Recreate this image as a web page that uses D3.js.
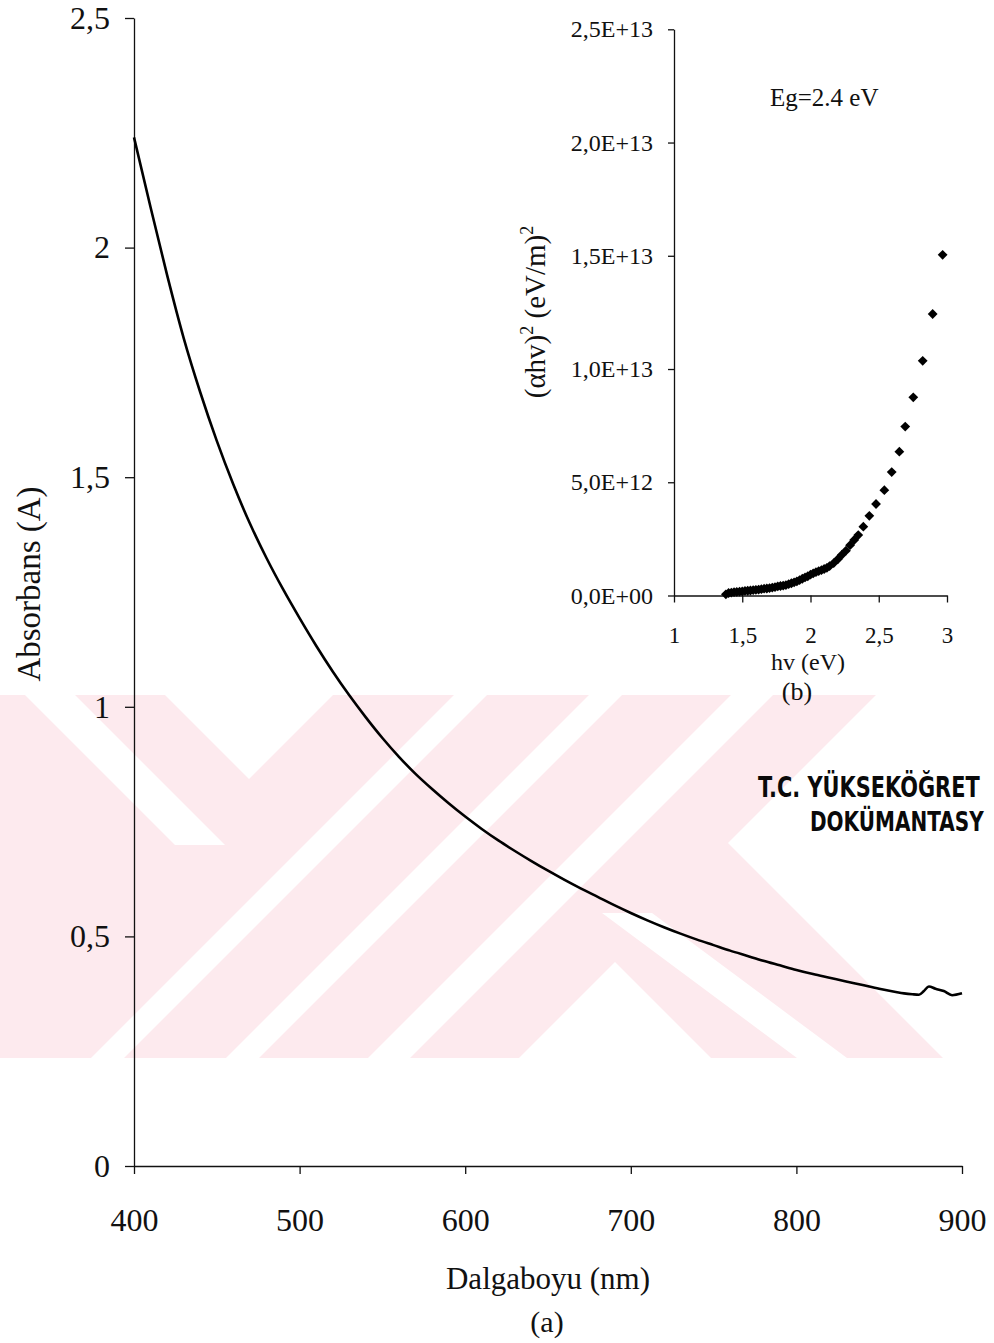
<!DOCTYPE html>
<html>
  <head>
    <meta charset="UTF-8">
    <title>Absorbans</title>
    <style>
      body { margin: 0; background: #fff; }
      svg { display: block; }
    </style>
  </head>
  <body>
    <div id='chart'></div>
    <script src='https://d3js.org/d3.v7.min.js'></script>
    <script>

      // main spectrum (a)
      const wavelength = [400, 410, 420, 430, 440, 450, 460, 470, 480, 490, 500, 510, 520, 530, 540, 550, 560, 570, 580, 590,
        600, 610, 620, 630, 640, 650, 660, 670, 680, 690, 700, 710, 720, 730, 740, 750, 760, 770, 780, 790,
        800, 810, 820, 830, 840, 850, 860, 865, 870, 874, 877, 880, 884, 889, 894, 900];
      const absorbance = [2.240, 2.088, 1.940, 1.803, 1.685, 1.579, 1.484, 1.399, 1.324, 1.256, 1.193, 1.133, 1.077, 1.025, 0.977, 0.932, 0.891, 0.854, 0.821, 0.790,
        0.761, 0.734, 0.709, 0.686, 0.664, 0.643, 0.623, 0.604, 0.586, 0.568, 0.551, 0.535, 0.520, 0.506, 0.493, 0.481, 0.469, 0.458, 0.447, 0.437,
        0.427, 0.418, 0.410, 0.402, 0.394, 0.386, 0.379, 0.376, 0.374, 0.373, 0.381, 0.391, 0.386, 0.381, 0.372, 0.376];
      const xTicks = [400, 500, 600, 700, 800, 900];
      const yTicks = [0, 0.5, 1, 1.5, 2, 2.5];

      // inset tauc plot (b), values in units of 1E+12
      const photonEnergy = [1.38, 1.40, 1.42, 1.44, 1.46, 1.48, 1.50, 1.52, 1.54, 1.56, 1.58, 1.60, 1.62, 1.64, 1.66, 1.68, 1.70, 1.72, 1.74, 1.76,
        1.78, 1.80, 1.82, 1.84, 1.86, 1.88, 1.90, 1.92, 1.94, 1.96, 1.98, 2.00, 2.02, 2.04, 2.06, 2.08, 2.10, 2.12, 2.14, 2.17,
        2.20, 2.23, 2.26, 2.29, 2.32, 2.35, 2.387, 2.431, 2.48, 2.541, 2.595, 2.651, 2.694, 2.753, 2.822, 2.895, 2.968];
      const taucValue = [0.05, 0.11, 0.13, 0.15, 0.16, 0.17, 0.18, 0.20, 0.21, 0.22, 0.24, 0.25, 0.26, 0.28, 0.30, 0.31, 0.33, 0.35, 0.37, 0.40,
        0.42, 0.44, 0.46, 0.50, 0.54, 0.58, 0.62, 0.68, 0.74, 0.80, 0.85, 0.92, 0.98, 1.03, 1.08, 1.12, 1.17, 1.22, 1.30, 1.43,
        1.60, 1.80, 1.98, 2.22, 2.45, 2.67, 3.04, 3.52, 4.04, 4.65, 5.45, 6.35, 7.46, 8.75, 10.36, 12.43, 15.04];
      const insetXTicks = [1, 1.5, 2, 2.5, 3];
      const insetYTicks = [0, 5e12, 1e13, 1.5e13, 2e13, 2.5e13];

      const width = 994;
      const height = 1343;
      const serif = "'Liberation Serif', 'Times New Roman', serif";
      const ink = '#111';

      const locale = d3.formatLocale({ decimal: ',', thousands: '.', grouping: [3], currency: ['', ''] });
      const fmt = locale.format('~g');
      const sciFmt = (d) => {
        const [m, e] = d.toExponential(1).split('e');
        return m.replace('.', ',') + 'E' + e[0] + e.slice(1).padStart(2, '0');
      };

      const svg = d3.select('#chart')
        .append('svg')
        .attr('width', width)
        .attr('height', height);

      svg.append('rect')
        .attr('width', width)
        .attr('height', height)
        .attr('fill', '#fff');

      // watermark
      const wm = svg.append('g');
      wm.append('clipPath')
        .attr('id', 'wm-clip')
        .append('rect')
        .attr('x', 0).attr('y', 695).attr('width', width).attr('height', 363);
      const wmg = wm.append('g').attr('clip-path', 'url(#wm-clip)');
      wmg.append('rect')
        .attr('x', 0).attr('y', 695).attr('width', width).attr('height', 363)
        .attr('fill', '#fdeaee');
      const gaps = [
        [[165, 695], [333, 695], [249, 779]],
        [[519, 1058], [711, 1058], [615, 962]],
        [[91, 1058], [124, 1058], [487, 695], [454, 695]],
        [[226, 1058], [259, 1058], [622, 695], [589, 695]],
        [[368, 1058], [410, 1058], [773, 695], [731, 695]],
        [[728, 843], [876, 695], [994, 695], [994, 1058], [943, 1058]],
        [[797, 1058], [847, 1058], [652, 913], [602, 913]],
        [[25, 695], [75, 695], [225, 845], [175, 845]]
      ];
      wmg.selectAll('polygon')
        .data(gaps)
        .enter().append('polygon')
        .attr('points', (d) => d.map((p) => p.join(',')).join(' '))
        .attr('fill', '#fff');

      // stamp
      const stamp = svg.append('g')
        .attr('fill', '#0a0a0a')
        .attr('font-family', "'DejaVu Sans', sans-serif")
        .attr('font-weight', 'bold');
      stamp.append('text')
        .attr('transform', 'translate(758,797) scale(0.72,1)')
        .attr('font-size', 29)
        .text('T.C. YÜKSEKÖĞRET');
      stamp.append('text')
        .attr('transform', 'translate(810,831) scale(0.77,1)')
        .attr('font-size', 26)
        .text('DOKÜMANTASY');

      // main chart
      const x = d3.scaleLinear().domain([400, 900]).range([134, 962]);
      const y = d3.scaleLinear().domain([0, 2.5]).range([1166, 18]);

      const styleAxis = (g, size) => {
        g.attr('font-family', serif).attr('font-size', size);
        g.selectAll('line, path').attr('stroke', ink).attr('stroke-width', 1.3);
        g.selectAll('text').attr('fill', ink);
      };

      svg.append('g')
        .attr('transform', `translate(0,${y(0)})`)
        .call(d3.axisBottom(x).tickValues(xTicks).tickSize(8).tickSizeOuter(0).tickPadding(34).tickFormat(fmt))
        .call((g) => styleAxis(g, 32));

      svg.append('g')
        .attr('transform', `translate(${x(400)},0)`)
        .call(d3.axisLeft(y).tickValues(yTicks).tickSize(9).tickSizeOuter(0).tickPadding(15).tickFormat(fmt))
        .call((g) => styleAxis(g, 32));

      const line = d3.line()
        .x((d, i) => x(wavelength[i]))
        .y((d) => y(d))
        .curve(d3.curveMonotoneX);

      svg.append('path')
        .datum(absorbance)
        .attr('d', line)
        .attr('fill', 'none')
        .attr('stroke', '#000')
        .attr('stroke-width', 2.6)
        .attr('stroke-linejoin', 'round');

      svg.append('text')
        .attr('transform', 'translate(40,584) rotate(-90)')
        .attr('text-anchor', 'middle')
        .attr('font-family', serif)
        .attr('font-size', 33)
        .attr('fill', ink)
        .text('Absorbans (A)');

      svg.append('text')
        .attr('x', 548).attr('y', 1289)
        .attr('text-anchor', 'middle')
        .attr('font-family', serif)
        .attr('font-size', 31)
        .attr('fill', ink)
        .text('Dalgaboyu (nm)');

      svg.append('text')
        .attr('x', 547).attr('y', 1332)
        .attr('text-anchor', 'middle')
        .attr('font-family', serif)
        .attr('font-size', 30)
        .attr('fill', ink)
        .text('(a)');

      // inset chart
      const ix = d3.scaleLinear().domain([1, 3]).range([674, 947]);
      const iy = d3.scaleLinear().domain([0, 2.5e13]).range([595.5, 29.3]);

      svg.append('g')
        .attr('transform', `translate(0,${iy(0)})`)
        .call(d3.axisBottom(ix).tickValues(insetXTicks).tickSize(7).tickSizeOuter(0).tickPadding(24).tickFormat(fmt))
        .call((g) => styleAxis(g, 23));

      svg.append('g')
        .attr('transform', `translate(${ix(1)},0)`)
        .call(d3.axisLeft(iy).tickValues(insetYTicks).tickSize(6).tickSizeOuter(0).tickPadding(15).tickFormat(sciFmt))
        .call((g) => styleAxis(g, 24));

      const diamond = d3.symbol().type(d3.symbolSquare).size(48);
      svg.append('g')
        .selectAll('path')
        .data(taucValue)
        .enter().append('path')
        .attr('d', diamond)
        .attr('transform', (d, i) => `translate(${ix(photonEnergy[i])},${iy(d * 1e12)}) rotate(45)`)
        .attr('fill', '#000');

      svg.append('text')
        .attr('x', 770).attr('y', 106)
        .attr('font-family', serif)
        .attr('font-size', 25)
        .attr('fill', ink)
        .text('Eg=2.4 eV');

      svg.append('text')
        .attr('x', 808).attr('y', 670)
        .attr('text-anchor', 'middle')
        .attr('font-family', serif)
        .attr('font-size', 24)
        .attr('fill', ink)
        .text('hv (eV)');

      svg.append('text')
        .attr('x', 797).attr('y', 700)
        .attr('text-anchor', 'middle')
        .attr('font-family', serif)
        .attr('font-size', 26)
        .attr('fill', ink)
        .text('(b)');

      const ytitle = svg.append('text')
        .attr('transform', 'translate(545,312) rotate(-90)')
        .attr('text-anchor', 'middle')
        .attr('font-family', serif)
        .attr('font-size', 29)
        .attr('fill', ink);
      ytitle.append('tspan').text('(αhv)');
      ytitle.append('tspan').attr('dy', -12).attr('font-size', 18).text('2');
      ytitle.append('tspan').attr('dy', 12).text(' (eV/m)');
      ytitle.append('tspan').attr('dy', -12).attr('font-size', 18).text('2');

    </script>
  </body>
</html>
